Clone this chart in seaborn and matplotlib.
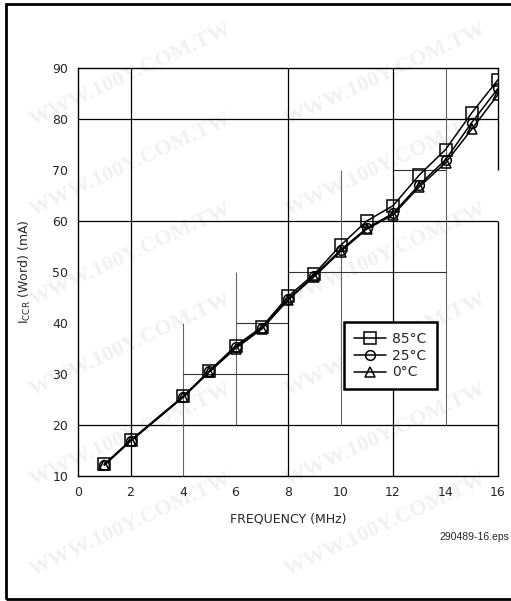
import matplotlib
matplotlib.use("Agg")
import matplotlib.pyplot as plt
import seaborn as sns
import pandas as pd
from matplotlib.patches import Rectangle


#---------- Data ----------
freq = [1, 2, 4, 5, 6, 7, 8, 9, 10, 11, 12, 13, 14, 15, 16]
icc_85 = [12.3, 17.0, 25.6, 30.6, 35.5, 39.2, 45.2, 49.6, 55.2, 60.0, 63.0, 69.0, 74.0, 81.2, 87.7]
icc_25 = [12.2, 16.9, 25.5, 30.5, 35.2, 39.0, 44.7, 49.3, 54.3, 58.6, 61.5, 67.1, 72.0, 79.3, 86.0]
icc_0 = [12.1, 16.8, 25.4, 30.4, 35.0, 38.8, 44.5, 49.1, 54.0, 58.4, 61.2, 66.7, 71.4, 78.0, 84.8]
labels = ["85°C", "25°C", "0°C"]
x_ticks = [0, 2, 4, 6, 8, 10, 12, 14, 16]
y_ticks = [10, 20, 30, 40, 50, 60, 70, 80, 90]

# full grid lines and the partial ones of the old datasheet grid
full_x = [2, 8, 12]
full_y = [20, 60, 80]
part_v = [(4, 10, 40), (6, 20, 50), (10, 20, 70), (14, 20, 90)]
part_h = [(30, 4, 8), (40, 6, 8), (50, 8, 14), (70, 12, 14)]

df = pd.DataFrame({
    "freq": freq * 3,
    "icc": icc_85 + icc_25 + icc_0,
    "temp": [labels[0]] * len(freq) + [labels[1]] * len(freq) + [labels[2]] * len(freq),
})

sns.set_style("white")
plt.rcParams["font.family"] = ["DejaVu Sans"]
plt.rcParams["mathtext.default"] = "regular"

fig = plt.figure(figsize=(5.11, 6.01), dpi=100)

#---------- Watermark (kept inside the page) ----------
for i in range(6):
    yc = 75 + 90 * i
    for xc in (130, 385):
        fig.text(xc / 511, 1 - yc / 601, "WWW.100Y.COM.TW", rotation=25,
                 ha="center", va="center", fontsize=16, fontweight="bold",
                 family="Liberation Serif", color="#f1f1f1", zorder=-1)

fig.patches.append(Rectangle((5.5 / 511, 2.5 / 601), 1.2, 595 / 601,
                             transform=fig.transFigure, fill=False,
                             edgecolor="black", linewidth=2.0))

ax = fig.add_axes([78 / 511, 125 / 601, 420 / 511, 408 / 601])
ax.set_facecolor("none")

#---------- Grid ----------
for gx in full_x:
    ax.axvline(gx, color="black", lw=0.9, zorder=1)
for gy in full_y:
    ax.axhline(gy, color="black", lw=0.9, zorder=1)
for gx, y0, y1 in part_v:
    ax.vlines(gx, y0, y1, color="#666666", lw=0.8, zorder=1)
for gy, x0, x1 in part_h:
    ax.hlines(gy, x0, x1, color="#333333", lw=0.8, zorder=1)

#---------- Lines ----------
markers = {labels[0]: ("s", 8), labels[1]: ("o", 7), labels[2]: ("^", 7.5)}
for lab in labels:
    sub = df[df["temp"] == lab]
    mk, ms = markers[lab]
    sns.lineplot(x="freq", y="icc", data=sub, ax=ax, color="black",
                 marker=mk, markersize=ms, markerfacecolor="none",
                 markeredgecolor="black", markeredgewidth=1.1,
                 linewidth=1.1, label=lab, zorder=3)

ax.set_xlim(0, 16)
ax.set_ylim(10, 90)
ax.set_xticks(x_ticks)
ax.set_yticks(y_ticks)
ax.tick_params(length=0, labelsize=9, pad=7)
ax.set_xlabel("FREQUENCY (MHz)", fontsize=9, labelpad=10)
ax.set_ylabel(r"I$_{CCR}$ (Word) (mA)", fontsize=9, labelpad=14)

for s in ["left", "top", "bottom", "right"]:
    ax.spines[s].set_color("black")
    ax.spines[s].set_linewidth(1.0)
ax.spines["right"].set_visible(False)
ax.vlines(16, 10, 60, color="black", lw=1.0, clip_on=False, zorder=2)
ax.vlines(16, 70, 90, color="black", lw=1.0, clip_on=False, zorder=2)

leg = ax.legend(loc="upper left", bbox_to_anchor=(0.633, 0.377), fontsize=10,
                frameon=True, fancybox=False, edgecolor="black",
                handlelength=2.3, borderpad=0.7, labelspacing=0.2,
                handletextpad=0.5, borderaxespad=0)
leg.get_frame().set_linewidth(1.8)
leg.get_frame().set_facecolor("white")
leg.get_frame().set_alpha(1)

fig.text(509 / 511, 1 - 537 / 601, "290489-16.eps", ha="right", va="center",
         fontsize=7.5, family="Liberation Sans")

plt.savefig("out.png", dpi=100)
